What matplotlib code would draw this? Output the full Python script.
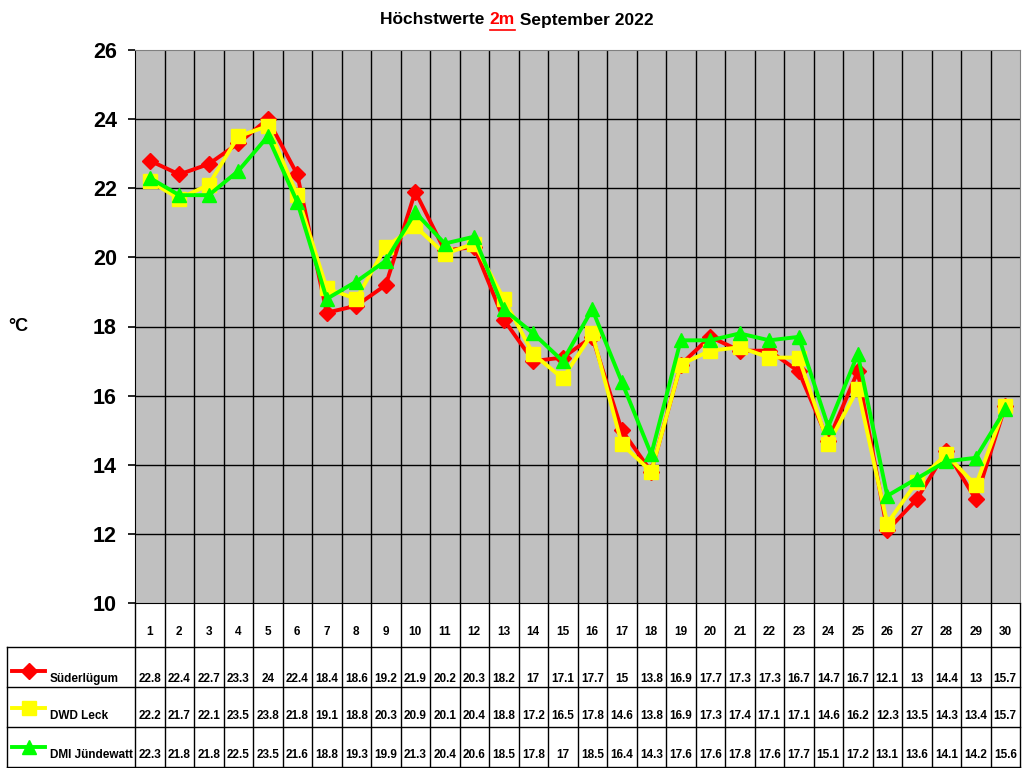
import numpy as np
import matplotlib
matplotlib.use('Agg')
import matplotlib.pyplot as plt
from matplotlib.transforms import blended_transform_factory

plt.rcParams['font.family'] = ['Liberation Sans', 'DejaVu Sans']
plt.rcParams['font.weight'] = 'bold'

days = list(range(1, 31))
suederluegum = [22.8, 22.4, 22.7, 23.3, 24, 22.4, 18.4, 18.6, 19.2, 21.9, 20.2, 20.3, 18.2, 17, 17.1,
                17.7, 15, 13.8, 16.9, 17.7, 17.3, 17.3, 16.7, 14.7, 16.7, 12.1, 13, 14.4, 13, 15.7]
dwd_leck = [22.2, 21.7, 22.1, 23.5, 23.8, 21.8, 19.1, 18.8, 20.3, 20.9, 20.1, 20.4, 18.8, 17.2, 16.5,
            17.8, 14.6, 13.8, 16.9, 17.3, 17.4, 17.1, 17.1, 14.6, 16.2, 12.3, 13.5, 14.3, 13.4, 15.7]
dmi_juendewatt = [22.3, 21.8, 21.8, 22.5, 23.5, 21.6, 18.8, 19.3, 19.9, 21.3, 20.4, 20.6, 18.5, 17.8, 17,
                  18.5, 16.4, 14.3, 17.6, 17.6, 17.8, 17.6, 17.7, 15.1, 17.2, 13.1, 13.6, 14.1, 14.2, 15.6]
series_names = ['Süderlügum', 'DWD Leck', 'DMI Jündewatt']

series = [suederluegum, dwd_leck, dmi_juendewatt]
colors = ['#FF0000', '#FFFF00', '#00FF00']
markers = ['D', 's', '^']
msizes = [8, 10, 10]

W, H = 1024, 768
fig = plt.figure(figsize=(W / 100, H / 100), dpi=100)
L, R, T, B = 135, 1020, 50, 603
ax = fig.add_axes([L / W, 1 - B / H, (R - L) / W, (B - T) / H])
ax.set_facecolor('#C0C0C0')
ax.set_xlim(0.5, 30.5)
ax.set_ylim(10, 26)
ax.set_yticks(np.arange(10, 27, 2))
ax.tick_params(axis='y', labelsize=15.5, length=5, width=1.2, direction='out', pad=8)
ax.set_xticks([])
for yv in np.arange(12, 26, 2):
    ax.axhline(yv, color='black', lw=1, zorder=1)
for xv in np.arange(1.5, 30.5, 1):
    ax.axvline(xv, color='black', lw=1, zorder=1)
for s in ['top', 'right']:
    ax.spines[s].set_color('#808080')
ax.spines['left'].set_color('black')
ax.spines['bottom'].set_color('black')

for vals, c, m, ms in zip(series, colors, markers, msizes):
    ax.plot(days, vals, color=c, marker=m, markersize=ms, lw=2.8, zorder=3)

# y axis label
fig.text(18 / W, 1 - 326 / H, '°C', fontsize=13, fontweight='bold', ha='center', va='center')

# title with red underlined "2m"
fig.canvas.draw()
rend = fig.canvas.get_renderer()
parts = [('Höchstwerte ', 'black'), ('2m', '#FF0000'), (' September 2022', 'black')]
texts = []
for p, c in parts:
    texts.append(fig.text(0, 1 - 20 / H, p, color=c, fontsize=12.5, fontweight='bold', va='center', ha='left'))
widths = [t.get_window_extent(rend).width for t in texts]
x0 = 517 - sum(widths) / 2
for t, w in zip(texts, widths):
    t.set_x(x0 / W)
    if t.get_text() == '2m':
        fig.add_artist(plt.Line2D([x0 / W, (x0 + w) / W], [1 - 30 / H, 1 - 30 / H],
                                  color='#FF0000', lw=1.2))
    x0 += w

# data table below the plot
tr = blended_transform_factory(ax.transData, ax.transAxes)
ph = B - T


def fy(py):
    return (B - py) / ph


row_lines = [647, 687, 727, 767]
left_x = (7 - L) / (R - L)
for py in row_lines:
    ax.plot([left_x, 1], [fy(py), fy(py)], transform=ax.transAxes, color='black', lw=1, clip_on=False)
ax.plot([left_x, left_x], [fy(647), fy(767)], transform=ax.transAxes, color='black', lw=1, clip_on=False)
for xv in np.arange(0.5, 31, 1):
    ax.plot([xv, xv], [fy(603), fy(767)], transform=tr, color='black', lw=1, clip_on=False)

for d in days:
    ax.text(d, fy(632), str(d), transform=tr, ha='center', va='center', fontsize=8.5, fontweight='bold')

row_text_y = [679, 716, 755]
for vals, ty in zip(series, row_text_y):
    for d, v in zip(days, vals):
        ax.text(d, fy(ty), f'{v:g}', transform=tr, ha='center', va='center', fontsize=8.5, fontweight='bold')

for name, c, m, ms, ty in zip(series_names, colors, markers, msizes, row_text_y):
    ly = 1 - (ty - 8) / H
    fig.add_artist(plt.Line2D([12 / W, 45 / W], [ly, ly], color=c, lw=2.8))
    fig.add_artist(plt.Line2D([29 / W], [ly], color=c, marker=m, markersize=ms, lw=0))
    fig.text(50 / W, 1 - ty / H, name, ha='left', va='center', fontsize=8.5, fontweight='bold')

fig.savefig('out.png', dpi=100)
